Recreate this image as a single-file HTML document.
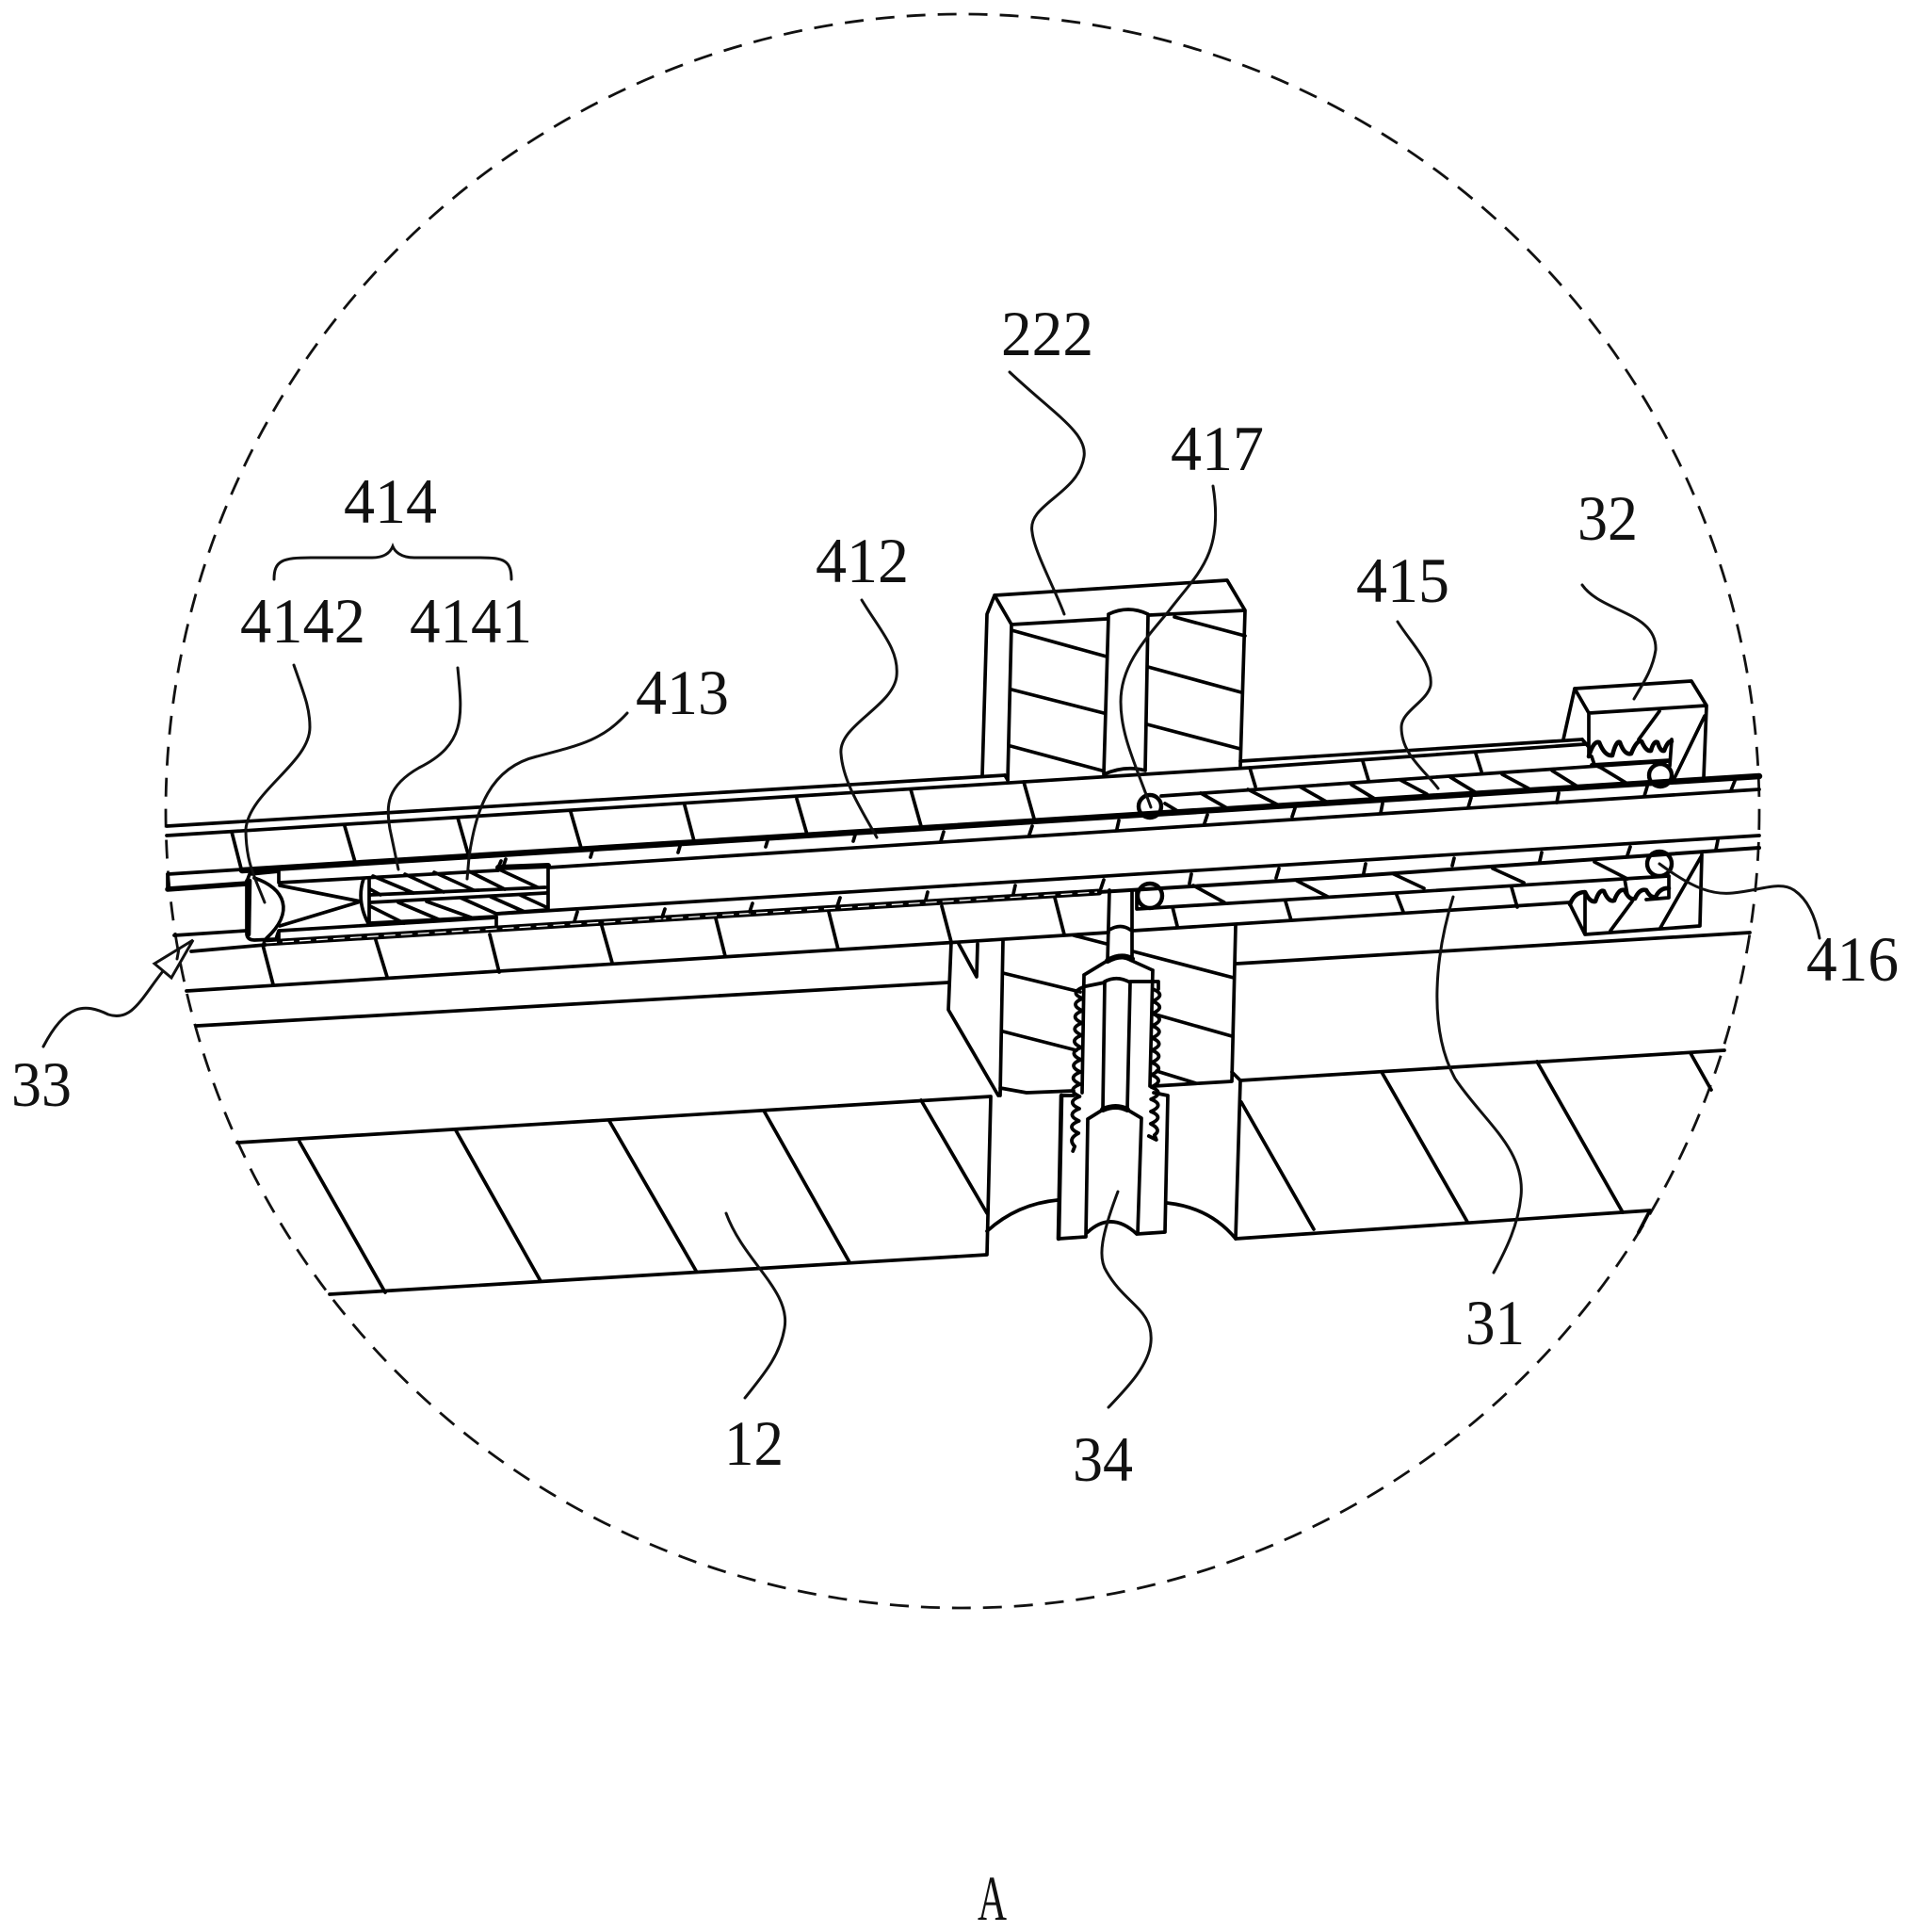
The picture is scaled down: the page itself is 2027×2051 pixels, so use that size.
<!DOCTYPE html>
<html><head><meta charset="utf-8"><style>
html,body{margin:0;padding:0;background:#fff}
svg{display:block}
text{font-family:"Liberation Serif","Noto Serif CJK SC",serif;font-size:68px;fill:#111}
</style></head><body>
<svg width="2027" height="2051" viewBox="0 0 2027 2051" xmlns="http://www.w3.org/2000/svg">
<rect width="2027" height="2051" fill="#fff"/>
<circle cx="1022" cy="861" r="846" fill="none" stroke="#111" stroke-width="2.8" stroke-dasharray="20 13"/>
<g fill="none" stroke="#000" stroke-width="3.7" stroke-linejoin="round" stroke-linecap="round">
<!-- rails -->
<path d="M177,877L1067,823M177,887L1327,815L1683,790M1317,808L1680,785"/>
<path d="M178,928L257,923" />
<path d="M257,924L1868,824" stroke-width="6.5"/>
<path d="M582,921L1868,838M297,937L529,924" />
<path d="M529,921L582,919" stroke-width="6"/>
<path d="M529,970L1868,887M297,988L527,974"/>
<path d="M282,1001L1167,947" stroke-width="7"/>
<path d="M282,1001L1167,947" stroke="#fff" stroke-width="1.3" stroke-dasharray="12 6" stroke-linecap="butt"/>
<path d="M1167,947L1410,932L1868,900" stroke-width="4"/>
<path d="M185,993L262,988M203,1010L282,1003"/>
<path d="M198,1052L1177,990M1203,988L1667,958"/>
<path d="M209,1089L1007,1043M1313,1023L1858,990"/>
<path d="M1233,845L1772,808M1207,965L1772,930M1207,965L1207,945"/>
<!-- upper ticks -->
<path d="M246,883L256,922M366,877L377,915M486,868L498,910M606,862L617,900M727,855L737,893M846,848L857,886M967,838L978,877M1087,830L1098,869M1327,815L1333,835M1447,808L1453,828M1567,800L1573,819"/>
<path d="M630,900L627,910M723,895L720,905M816,889L813,899M909,883L906,893M1002,883L999,893M1096,877L1093,886M1188,871L1186,880M1282,865L1279,874M1375,858L1372,867M1468,853L1466,863M1562,847L1559,857M1655,842L1653,852M1749,835L1746,845M1842,829L1838,839"/>
<!-- lower ticks -->
<path d="M279,1003L290,1045M399,998L411,1037M520,992L530,1032M639,983L650,1022M760,975L770,1015M880,968L890,1008M1000,962L1010,1000M1120,953L1130,992M1245,963L1250,983M1365,957L1371,977M1483,950L1490,968M1605,942L1611,963"/>
<path d="M613,968L610,978M706,965L703,974M799,959L796,968M892,953L889,962M985,947L983,955M1078,940L1076,949M1172,934L1169,943M1265,928L1263,938M1358,922L1355,932M1450,917L1448,927M1544,911L1542,919M1637,905L1635,914M1731,899L1728,908M1824,892L1822,902"/>
<!-- upper diagonal hatch -->
<path d="M1237,853L1252,862M1275,842L1303,858M1325,838L1358,855M1380,835L1410,852M1435,833L1463,850M1487,828L1515,843M1540,825L1568,842M1595,822L1623,837M1648,818L1675,835M1700,815L1728,832"/>
<!-- lower diagonal hatch -->
<path d="M1267,940L1300,958M1377,935L1410,952M1480,928L1512,943M1585,922L1618,937M1693,915L1728,933M1725,933L1728,950"/>
<circle cx="1221" cy="856" r="12" stroke-width="4.4"/>
<circle cx="1221" cy="951" r="13" stroke-width="4.4"/>
<circle cx="1763" cy="823" r="12" stroke-width="4.4"/>
<circle cx="1762" cy="917" r="13" stroke-width="4.4"/>
<!-- block 222 -->
<path d="M1056,632L1303,616L1322,648L1317,813M1056,632L1048,652L1043,823M1056,632L1074,663L1070,828M1074,663L1175,657M1220,653L1322,648"/>
<path d="M1177,653L1172,822M1219,653L1216,818M1177,652Q1198,642 1219,652M1172,822Q1195,812 1216,818"/>
<path d="M1074,669L1175,697M1074,732L1172,757M1073,792L1170,818M1247,655L1322,675M1219,708L1318,735M1218,769L1317,795M1067,823L1070,828"/>
<!-- block 32 upper -->
<path d="M1672,731L1796,723L1812,749L1809,826M1672,731L1660,785M1672,731L1687,757L1812,749M1687,757L1687,803M1762,755L1740,785M1810,760L1777,828M1680,785L1687,793M1775,785L1773,813M1690,812L1773,807M1690,803L1693,812M1693,812L1700,815"/>
<path d="M1687,803Q1692,786 1698,788Q1704,803 1712,802Q1716,786 1720,788Q1725,802 1732,800Q1738,785 1743,787Q1748,798 1753,797Q1756,786 1760,788Q1763,798 1767,797Q1771,786 1775,787" stroke-width="4.6"/>
<!-- block 32 lower -->
<path d="M1667,960L1683,992L1805,983L1807,907M1683,947L1683,992M1807,908L1763,985M1733,957L1710,988M1772,930L1772,953L1748,955"/>
<path d="M1667,960Q1672,947 1683,947Q1688,958 1694,957Q1698,944 1703,946Q1708,958 1714,956Q1719,943 1725,945Q1730,956 1736,954Q1741,943 1748,945Q1753,954 1758,952Q1763,942 1772,943" stroke-width="4.6"/>
<!-- central lower block -->
<path d="M1010,1000L1007,1072L1060,1163M1018,1002L1037,1037L1038,1002M1065,998L1062,1163M1062,1155L1090,1160L1140,1158"/>
<path d="M1312,983L1308,1148L1225,1153M1308,1138L1317,1147L1312,1315M1140,993L1175,1002M1065,1033L1147,1053M1065,1095L1143,1115M1203,1010L1310,1038M1227,1077L1308,1100M1228,1137L1270,1150"/>
<path d="M1178,945L1176,1020M1202,945L1202,1017M1178,987Q1190,980 1200,987"/>
<path d="M1151,1035L1174,1021Q1188,1012 1202,1020L1224,1030M1151,1035L1149,1160M1224,1030L1221,1153M1153,1047L1173,1043M1200,1042L1230,1042L1230,1050"/>
<path d="M1176,1020Q1190,1012 1202,1018" stroke-width="6"/>
<path d="M1173,1042Q1186,1035 1200,1043M1173,1042L1171,1178M1200,1043L1197,1177"/>
<path d="M1171,1178Q1185,1172 1197,1178" stroke-width="6"/>
<path d="M1155,1188L1171,1178M1197,1178L1212,1187L1208,1310M1155,1188L1153,1313L1124,1315L1127,1163L1140,1163M1225,1160L1240,1163L1237,1308L1207,1310M1155,1308Q1180,1285 1207,1310"/>
<path d="M1127,1163L1124,1315" stroke-width="4.6"/>
<path d="M1150,1048q-15,6 -.4,12q-15,6 -.4,13q-15,6 -.4,13q-15,6 -.4,13q-15,6 -.4,13q-15,6 -.4,13q-15,6 -.4,13q-15,6 -.4,13q-15,6 -.4,13q-15,6 -.4,13q-15,6 -.4,13q-15,6 -.4,13q-12,6 -4,14l-2,5" stroke-width="3.8"/>
<path d="M1224,1050q15,6 -.2,13q15,6 -.2,13q15,6 -.2,13q15,6 -.2,13q15,6 -.2,13q15,6 -.2,13q15,6 -.2,13q15,6 -.2,13q15,6 -.2,13q15,6 -.2,13q15,6 -.2,13q12,6 4,12l2,5l-8,-4" stroke-width="3.8"/>
<!-- bottom block 12 -->
<path d="M252,1213L1052,1164L1048,1332L350,1374M1317,1147L1831,1115M1312,1315L1752,1285L1740,1308"/>
<path d="M1048,1307Q1080,1278 1123,1274M1239,1277Q1285,1282 1312,1315"/>
<path d="M318,1212L409,1372M484,1200L574,1360M647,1190L739,1349M811,1179L902,1340M978,1168L1048,1288M1318,1170L1395,1305M1467,1138L1558,1297M1632,1127L1723,1287M1795,1118L1817,1157"/>
<!-- left end -->
<path d="M178,928L178,944" />
<path d="M178,944L262,938" stroke-width="5.5"/>
<path d="M262,935L262,992Q263,998 270,998L293,997L296,988L296,1000"/>
<path d="M262,936L265,928L296,925L296,937" />
<path d="M265,935L264,992" stroke-width="4.6"/>
<path d="M270,932C303,943 313,968 283,996"/>
<path d="M297,940L383,957M297,983L383,957M386,933Q378,957 392,982M392,932L392,978"/>
<path d="M393,950L579,942M393,958L580,948M393,980L527,973M527,970L580,966M527,973L527,983M582,921L582,966"/>
<path d="M396,930L439,948M430,928L471,947M461,926L503,945M498,925L536,944M530,923L571,942M393,944L404,950M393,962L429,980M423,958L468,977M453,957L503,975M489,953L527,970M521,952L557,968M552,950L580,963M529,921L532,914M534,921L537,912"/>
</g>
<!-- leaders -->
<g fill="none" stroke="#111" stroke-width="3" stroke-linecap="round">
<path d="M312,706C322,735 329,750 329,772C329,810 265,840 261,880C261,915 270,930 281,958"/>
<path d="M486,709C491,760 495,790 445,815C410,835 410,855 414,880L423,923"/>
<path d="M666,757C640,785 620,790 570,803C520,815 505,860 498,910L496,933"/>
<path d="M1072,395C1120,440 1155,460 1151,485C1145,525 1090,535 1096,565C1098,585 1120,625 1130,652"/>
<path d="M1288,516C1300,590 1270,610 1240,650C1210,685 1190,710 1190,745C1190,780 1205,810 1222,857"/>
<path d="M915,637C935,670 955,690 952,718C948,750 890,770 893,800C895,830 915,860 931,889"/>
<path d="M1484,660C1500,685 1522,705 1519,728C1515,745 1488,755 1488,772C1488,800 1510,815 1527,837"/>
<path d="M1680,621C1700,650 1760,650 1758,690C1755,710 1745,725 1735,742"/>
<path d="M1762,917C1800,945 1820,950 1840,948C1870,945 1890,935 1905,945C1920,955 1928,975 1932,996"/>
<path d="M1543,952C1525,1010 1515,1090 1545,1145C1575,1190 1620,1220 1615,1270C1612,1300 1600,1325 1586,1351"/>
<path d="M771,1288C790,1340 840,1370 833,1410C828,1440 810,1460 791,1484"/>
<path d="M1187,1265C1170,1310 1165,1335 1175,1350C1195,1385 1225,1390 1222,1425C1220,1450 1195,1475 1177,1494"/>
<path d="M173,1031C150,1060 140,1085 115,1077C90,1065 70,1065 46,1111"/>
<path d="M164,1023L205,998L182,1038ZM190,1007L188,1018"/>
<path d="M291,615C291,595 300,592 330,592L395,592C410,592 415,585 417,580C419,585 425,592 440,592L510,592C535,592 543,595 543,615"/>
</g>
<g>
<text x="1063" y="377" textLength="98" lengthAdjust="spacingAndGlyphs">222</text>
<text x="1243" y="499" textLength="99" lengthAdjust="spacingAndGlyphs">417</text>
<text x="365" y="555" textLength="99" lengthAdjust="spacingAndGlyphs">414</text>
<text x="255" y="682" textLength="133" lengthAdjust="spacingAndGlyphs">4142</text>
<text x="435" y="682" textLength="130" lengthAdjust="spacingAndGlyphs">4141</text>
<text x="675" y="758" textLength="99" lengthAdjust="spacingAndGlyphs">413</text>
<text x="866" y="618" textLength="99" lengthAdjust="spacingAndGlyphs">412</text>
<text x="1440" y="639" textLength="99" lengthAdjust="spacingAndGlyphs">415</text>
<text x="1675" y="573" textLength="64" lengthAdjust="spacingAndGlyphs">32</text>
<text x="1918" y="1041" textLength="98" lengthAdjust="spacingAndGlyphs">416</text>
<text x="12" y="1174" textLength="64" lengthAdjust="spacingAndGlyphs">33</text>
<text x="1556" y="1427" textLength="63" lengthAdjust="spacingAndGlyphs">31</text>
<text x="769" y="1555" textLength="63" lengthAdjust="spacingAndGlyphs">12</text>
<text x="1139" y="1572" textLength="64" lengthAdjust="spacingAndGlyphs">34</text>
<text x="1038" y="2038" textLength="31" lengthAdjust="spacingAndGlyphs">A</text>
</g>
</svg>
</body></html>
